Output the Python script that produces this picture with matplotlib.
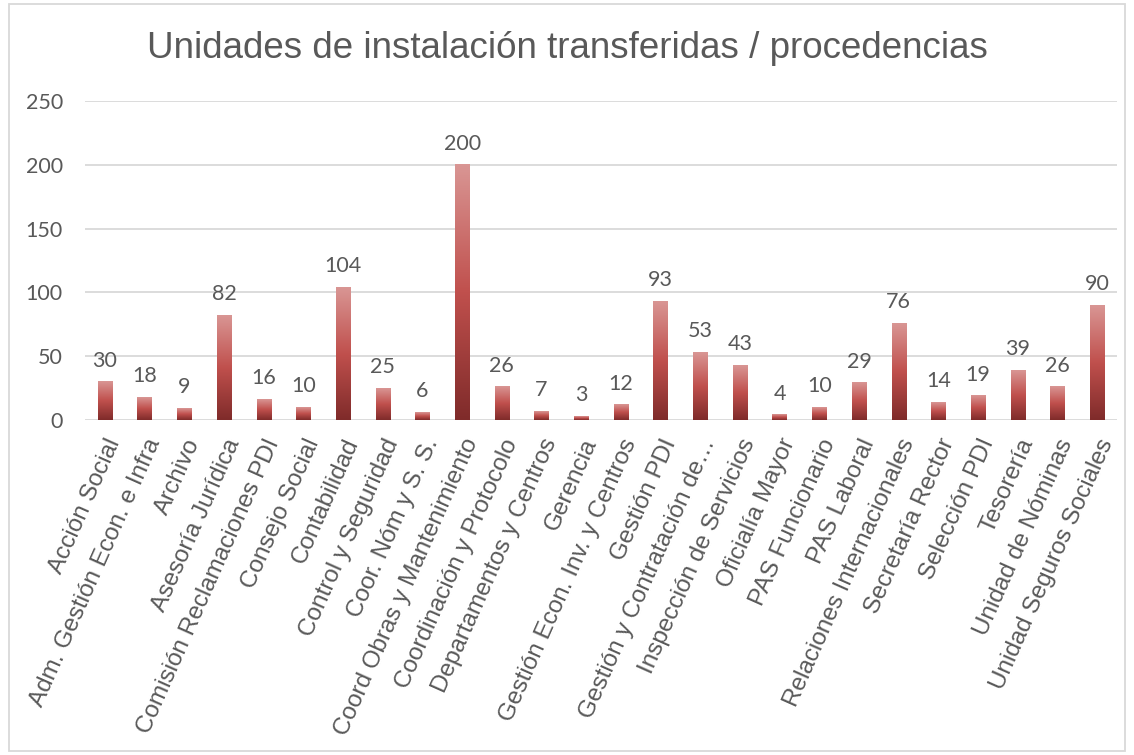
import numpy as np
import matplotlib.pyplot as plt
from matplotlib.colors import LinearSegmentedColormap
from matplotlib.patches import Rectangle

# Datos
categorias = ['Acción Social', 'Adm. Gestión Econ. e Infra', 'Archivo', 'Asesoría Jurídica',
              'Comisión Reclamaciones PDI', 'Consejo Social', 'Contabilidad', 'Control y Seguridad',
              'Coor. Nóm y S. S.', 'Coord Obras y Mantenimiento', 'Coordinación y Protocolo',
              'Departamentos y Centros', 'Gerencia', 'Gestión Econ. Inv. y Centros', 'Gestión PDI',
              'Gestión y Contratación de…', 'Inspección de Servicios', 'Oficialía Mayor',
              'PAS Funcionario', 'PAS Laboral', 'Relaciones Internacionales', 'Secretaría Rector',
              'Selección PDI', 'Tesorería', 'Unidad de Nóminas', 'Unidad Seguros Sociales']
valores = [30, 18, 9, 82, 16, 10, 104, 25, 6, 200, 26, 7, 3, 12, 93, 53, 43, 4, 10, 29, 76, 14, 19, 39, 26, 90]
yticks = [0, 50, 100, 150, 200, 250]

gris = '#595959'
cmap = LinearSegmentedColormap.from_list('rojo', ['#7f2b2a', '#c0504d', '#d99694'])
grad = np.linspace(0, 1, 256).reshape(-1, 1)

fig = plt.figure(figsize=(11.34, 7.55), dpi=100)
ax = fig.add_axes([0.075, 0.4437, 0.91, 0.4225])

x = np.arange(len(categorias))
ancho = 0.36
for xi, v in zip(x, valores):
    ax.imshow(grad, cmap=cmap, origin='lower', aspect='auto',
              extent=[xi - ancho / 2, xi + ancho / 2, 0, v], zorder=3)
    ax.annotate(str(v), (xi, v), xytext=(0, 8), textcoords='offset points',
                ha='center', va='bottom', fontsize=15.5, color=gris, family='Lato')

ax.set_xlim(-0.5, len(categorias) - 0.5)
ax.set_ylim(0, 250)
ax.set_yticks(yticks)
ax.set_yticklabels([str(t) for t in yticks], fontsize=15.5, color=gris, family='Lato')
ax.set_xticks(x)
ax.set_xticklabels(categorias, rotation=66, ha='right', rotation_mode='anchor',
                   fontsize=17.5, color=gris, family='Liberation Sans')
ax.tick_params(length=0, pad=11)
ax.tick_params(axis='y', pad=16)
ax.grid(axis='y', color='#d9d9d9', linewidth=1.3, zorder=0)
ax.set_axisbelow(True)
for s in ax.spines.values():
    s.set_visible(False)

fig.text(0.5, 0.936, 'Unidades de instalación transferidas / procedencias', ha='center', va='center',
         fontsize=26.5, color=gris, family='Liberation Sans')

# borde del gráfico
fig.patches.append(Rectangle((0.008, 0.005), 0.984, 0.99, transform=fig.transFigure,
                             fill=False, edgecolor='#d9d9d9', linewidth=1.3))

fig.savefig('out.png', dpi=100)
